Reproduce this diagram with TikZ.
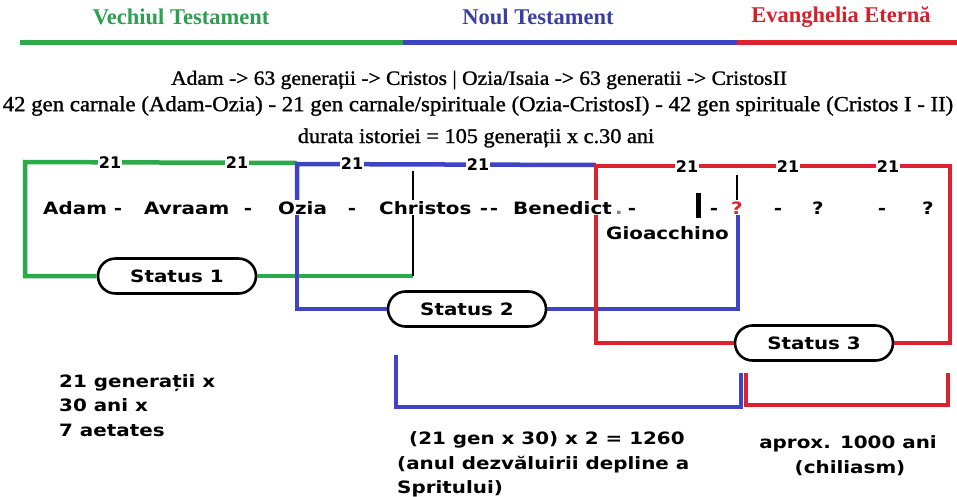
\documentclass[tikz,border=0pt]{standalone}
\usepackage{fontspec}
\setmainfont{Liberation Serif}
\newfontfamily\subserif{Liberation Serif}[FakeStretch=1.06,FakeBold=1.2]
\newfontfamily\bk{DejaVu Sans}[UprightFont={DejaVu Sans Bold},FakeStretch=1.17]
\newfontfamily\bkn{DejaVu Sans}[UprightFont={DejaVu Sans Bold}]
\usetikzlibrary{shapes.misc}
\definecolor{cg}{RGB}{44,170,74}
\definecolor{cb}{RGB}{62,68,196}
\definecolor{cr}{RGB}{222,32,48}
\definecolor{hg}{RGB}{46,158,79}
\definecolor{hb}{RGB}{59,63,160}
\definecolor{hr}{RGB}{211,32,47}
\tikzset{
  hdr/.style={inner sep=0pt,font=\fontsize{22.5}{24}\selectfont\bfseries},
  sub/.style={inner sep=0pt,font=\subserif\fontsize{21}{24}\selectfont},
  word/.style={inner sep=1pt,anchor=base,font=\bk\fontsize{17}{20}\selectfont},
  wordw/.style={word,anchor=base west},
  gen/.style={inner sep=1pt,fill=white,font=\bkn\fontsize{16}{18}\selectfont},
  statusbox/.style={draw,rounded rectangle,line width=2.6pt,minimum width=158pt,minimum height=35pt,inner sep=0pt,font=\bk\fontsize{17}{20}\selectfont,fill=white},
  gl/.style={cg,line width=4.5pt},
  bl/.style={cb,line width=4.5pt},
  rl/.style={cr,line width=4.5pt},
  hl/.style={line width=5pt},
  tick/.style={black,line width=2.5pt},
}
\begin{document}
\begin{tikzpicture}[x=1pt,y=-1pt]
\useasboundingbox (0,0) rectangle (957,496);
% header
\node[hdr,text=hg] (vt) at (181,17) {Vechiul Testament};
\node[hdr,text=hb] (nt) at (538,17) {Noul Testament};
\node[hdr,text=hr] (ee) at (841,17) {Evanghelia Eternă};
\coordinate (h0) at (20,42);
\coordinate (h1) at (403,42);
\coordinate (h2) at (737,42);
\coordinate (h3) at (957,42);
\draw[hl,cg] (h0) -- (h1);
\draw[hl,cb] (h1) -- (h2);
\draw[hl,cr] (h2) -- (h3);
% subtitle lines
\node[sub,font=\subserif\fontsize{20.3}{24}\selectfont] (l1) at (479,80) {Adam -> 63 generații -> Cristos | Ozia/Isaia -> 63 generatii -> CristosII};
\node[sub,font=\subserif\fontsize{21.5}{24}\selectfont] (l2) at (478,106) {42 gen carnale (Adam-Ozia) - 21 gen carnale/spirituale (Ozia-CristosI) - 42 gen spirituale (Cristos I - II)};
\node[sub] (l3) at (476,138) {durata istoriei = 105 generații x c.30 ani};
% row of names
\node[wordw] (adam) at (42,214) {Adam -};
\node[wordw] (avraam) at (143,214) {Avraam};
\node[word] (d1) at (248,214) {-};
\node[wordw] (ozia) at (277,214) {Ozia};
\node[word] (d2) at (352,214) {-};
\node[wordw] (christos) at (378,214) {Christos};
\node[word] (d3) at (489,214) {-\kern2pt-};
\node[wordw] (benedict) at (512,214) {Benedict};
\node[word,text=gray] (dot) at (619,214) {.};
\node[word] (d4) at (632,214) {-};
\node[word] (d5) at (714,214) {-};
\node[word,text=cr] (q1) at (737,214) {?};
\node[word] (d6) at (778,214) {-};
\node[word] (q2) at (818,214) {?};
\node[word] (d7) at (882,214) {-};
\node[word] (q3) at (928,214) {?};
\node[wordw] (gio) at (605,239) {Gioacchino};
% status boxes
\node[statusbox] (s1) at (177,276) {Status 1};
\node[statusbox] (s2) at (467,309) {Status 2};
\node[statusbox] (s3) at (814,343) {Status 3};
% green bracket
\coordinate (gtl) at (25,162);
\coordinate (gtr) at (297,163);
\coordinate (gbl) at (25,276);
\coordinate (gbr) at (413,276);
\draw[gl] (gtr) -- (gtl) -- (gbl) -- (s1.west);
\draw[gl] (s1.east) -- (gbr);
% blue bracket
\coordinate (btl) at (297,164);
\coordinate (btr) at (596,165);
\coordinate (bbl) at (297,309);
\coordinate (bbr) at (738,309);
\draw[bl] (btr) -- (btl) -- (ozia.north -| btl);
\draw[bl] (ozia.south -| btl) -- (bbl) -- (s2.west);
\draw[bl] (s2.east) -- (bbr) -- (q1.south -| bbr);
% red bracket
\coordinate (rtl) at (596,166);
\coordinate (rtr) at (950,166);
\coordinate (rbl) at (596,343);
\coordinate (rbr) at (950,343);
\draw[rl] (benedict.north -| rtl) -- (rtl) -- (rtr) -- (rbr) -- (s3.east);
\draw[rl] (benedict.south -| rtl) -- (rbl) -- (s3.west);
% black ticks
\coordinate (ct) at (413,171);
\draw[tick] (ct) -- (christos.north -| ct);
\draw[tick] (christos.south -| ct) -- (gbr);
\coordinate (qt) at (737,175);
\draw[tick,line width=2pt] (qt) -- (q1.north);
\coordinate (bar1) at (698,193);
\coordinate (bar2) at (698,218);
\draw[black,line width=5pt] (bar1) -- (bar2);
% generation labels
\node[gen] (n1) at (110,163) {21};
\node[gen] (n2) at (237,163) {21};
\node[gen] (n3) at (352,164) {21};
\node[gen] (n4) at (478,165) {21};
\node[gen] (n5) at (687,167) {21};
\node[gen] (n6) at (788,167) {21};
\node[gen] (n7) at (888,167) {21};
% lower brackets
\coordinate (lb1) at (396,355);
\coordinate (lb2) at (396,407);
\coordinate (lb3) at (741,407);
\coordinate (lb4) at (741,373);
\draw[bl] (lb1) -- (lb2) -- (lb3) -- (lb4);
\coordinate (lr1) at (746,373);
\coordinate (lr2) at (746,405);
\coordinate (lr3) at (948,405);
\coordinate (lr4) at (948,373);
\draw[rl] (lr1) -- (lr2) -- (lr3) -- (lr4);
% bottom texts
\node[wordw] (t1) at (58,387) {21 generații x};
\node[wordw] (t2) at (58,411) {30 ani x};
\node[wordw] (t3) at (58,436) {7 aetates};
\node[wordw] (m1) at (408,444) {(21 gen x 30) x 2 = 1260};
\node[wordw] (m2) at (396,469) {(anul dezvăluirii depline a};
\node[wordw] (m3) at (396,493) {Spritului)};
\node[word] (r1) at (848,448) {aprox. 1000 ani};
\node[word] (r2) at (850,473) {(chiliasm)};
\end{tikzpicture}
\end{document}
